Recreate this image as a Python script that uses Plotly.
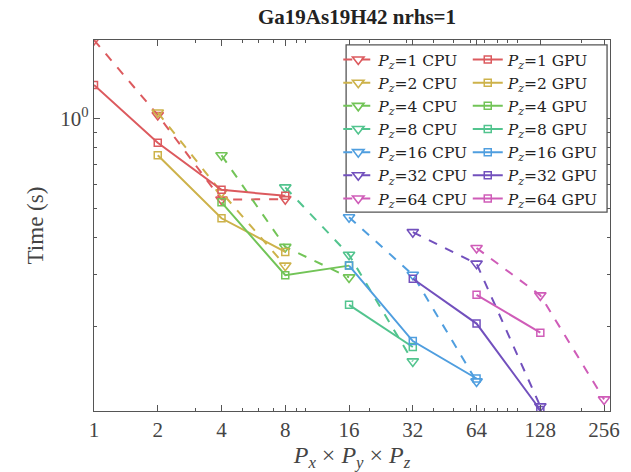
import plotly.graph_objects as go
import math

# ---- data ----
pz_labels = ["1", "2", "4", "8", "16", "32", "64"]
colors = ["#dc5a5e", "#cdb24a", "#72c457", "#52c48e", "#4f9edf", "#7250bd", "#cf5cb8"]

cpu_x = [[1, 2, 4, 8], [2, 4, 8], [4, 8, 16], [8, 16, 32], [16, 32, 64], [32, 64, 128], [64, 128, 256]]
cpu_y = [[1.84, 1.03, 0.535, 0.537],
         [1.05, 0.566, 0.321],
         [0.754, 0.371, 0.293],
         [0.588, 0.349, 0.153],
         [0.467, 0.299, 0.131],
         [0.416, 0.326, 0.108],
         [0.368, 0.255, 0.114]]

gpu_x = [[1, 2, 4, 8], [2, 4, 8], [4, 8, 16], [16, 32], [16, 32, 64], [32, 64, 128], [64, 128]]
gpu_y = [[1.30, 0.831, 0.577, 0.551],
         [0.754, 0.463, 0.357],
         [0.524, 0.298, 0.321],
         [0.237, 0.171],
         [0.321, 0.179, 0.134],
         [0.290, 0.205, 0.105],
         [0.256, 0.191]]

x_ticks = [1, 2, 4, 8, 16, 32, 64, 128, 256]
x_ticktext = ["1", "2", "4", "8", "16", "32", "64", "128", "256"]
x_minor = [3, 5, 6, 7, 9, 10, 20, 30, 40, 50, 60, 70, 80, 90, 100, 200]
y_ticks = [1]
y_ticktext = ["10<sup>0</sup>"]
y_minor = [0.2, 0.3, 0.4, 0.5, 0.6, 0.7, 0.8, 0.9]

FONT = "Liberation Serif, Times New Roman, serif"
LFONT = "DejaVu Serif, serif"
AX = "#555555"

fig = go.Figure()
for i, p in enumerate(pz_labels):
    fig.add_trace(go.Scatter(
        x=cpu_x[i], y=cpu_y[i], mode="lines+markers",
        name=f"<i>P</i><sub><i>z</i></sub>={p} CPU",
        line=dict(color=colors[i], width=2, dash="dash"),
        marker=dict(symbol="triangle-down-open", size=10, color=colors[i],
                    line=dict(width=1.6, color=colors[i])),
        legend="legend"))
for i, p in enumerate(pz_labels):
    fig.add_trace(go.Scatter(
        x=gpu_x[i], y=gpu_y[i], mode="lines+markers",
        name=f"<i>P</i><sub><i>z</i></sub>={p} GPU",
        line=dict(color=colors[i], width=2),
        marker=dict(symbol="square-open", size=7, color=colors[i],
                    line=dict(width=1.5, color=colors[i])),
        legend="legend2"))

W, H = 631, 472
L, R, T, B = 94, 11, 40, 59

def px_x(p):
    return (p - L) / (W - L - R)

def px_y(p):
    return 1 - (p - T) / (H - T - B)

fig.add_shape(type="rect", xref="paper", yref="paper",
              x0=px_x(351), x1=px_x(617), y0=px_y(213), y1=px_y(45),
              fillcolor="white", line=dict(color=AX, width=1.3), layer="above")

legend_common = dict(font=dict(family=LFONT, size=15.5, color="#222222"),
                     bgcolor="rgba(0,0,0,0)", borderwidth=0,
                     xanchor="left", yanchor="top", yref="paper", xref="paper",
                     tracegroupgap=0, itemwidth=30)

fig.update_layout(
    width=W, height=H,
    margin=dict(l=L, r=R, t=T, b=B),
    paper_bgcolor="white", plot_bgcolor="white",
    font=dict(family=FONT, size=18, color="#333333"),
    title=dict(text="<b>Ga19As19H42 nrhs=1</b>", x=px_x(357) * (W - L - R) / W + L / W,
               xanchor="center", y=1 - 17 / H, yanchor="middle", yref="container",
               font=dict(family=FONT, size=21, color="#222222")),
    legend=dict(x=px_x(343), y=px_y(43), **legend_common),
    legend2=dict(x=px_x(475), y=px_y(43), **legend_common),
    xaxis=dict(type="log", range=[0, math.log10(273)],
               tickmode="array", tickvals=x_ticks, ticktext=x_ticktext,
               ticks="inside", ticklen=6, tickwidth=1, tickcolor=AX,
               minor=dict(tickvals=x_minor, ticks="inside", ticklen=3, tickcolor=AX),
               showline=True, linecolor=AX, linewidth=1.3, mirror="allticks",
               showgrid=False, zeroline=False,
               tickfont=dict(family=FONT, size=21, color="#444444"),
               title=dict(text="<i>P</i><sub><i>x</i></sub> × <i>P</i><sub><i>y</i></sub> × <i>P</i><sub><i>z</i></sub>",
                          font=dict(family=FONT, size=24, color="#444444"), standoff=2)),
    yaxis=dict(type="log", range=[math.log10(0.1042), math.log10(1.84)],
               tickmode="array", tickvals=y_ticks, ticktext=y_ticktext,
               ticks="inside", ticklen=6, tickwidth=1, tickcolor=AX,
               minor=dict(tickvals=y_minor, ticks="inside", ticklen=3, tickcolor=AX),
               showline=True, linecolor=AX, linewidth=1.3, mirror="allticks",
               showgrid=False, zeroline=False,
               tickfont=dict(family=FONT, size=21, color="#444444"),
               title=dict(text="Time (s)", font=dict(family=FONT, size=23, color="#444444"),
                          standoff=10)),
)

fig.write_html("out.html")
